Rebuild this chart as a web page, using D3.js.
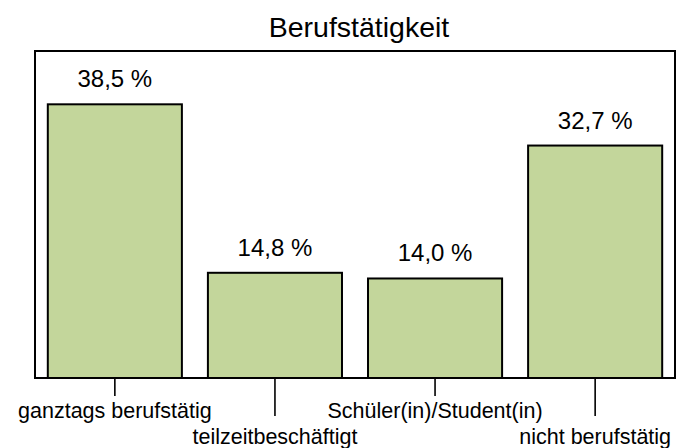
<!DOCTYPE html>
<html>
<head>
<meta charset="utf-8">
<script src="https://cdn.jsdelivr.net/npm/d3@7"></script>
<style>
  body { margin: 0; background: #fff; }
  text { font-family: Arial, "Liberation Sans", sans-serif; fill: #000; }
</style>
</head>
<body>
<div id="chart"></div>
<script>
const title = "Berufstätigkeit";
const categories = ["ganztags berufstätig", "teilzeitbeschäftigt", "Schüler(in)/Student(in)", "nicht berufstätig"];
const values = [38.5, 14.8, 14.0, 32.7];
const yMax = 46;

const width = 684, height = 448;
const plot = { left: 35, right: 675, top: 51, bottom: 378 };

const svg = d3.select("#chart")
              .append("svg")
              .attr("width", width)
              .attr("height", height);

const x = d3.scaleBand()
            .domain(categories)
            .range([plot.left, plot.right])
            .paddingInner(0.1625)
            .paddingOuter(0.08);

const y = d3.scaleLinear()
            .domain([0, yMax])
            .range([plot.bottom, plot.top]);

// title
svg.append("text")
   .attr("x", width / 2 + 17)
   .attr("y", 37)
   .attr("text-anchor", "middle")
   .style("font-size", "28.5px")
   .text(title);

// plot frame
svg.append("rect")
   .attr("x", plot.left)
   .attr("y", plot.top)
   .attr("width", plot.right - plot.left)
   .attr("height", plot.bottom - plot.top)
   .attr("fill", "none")
   .attr("stroke", "#000")
   .attr("stroke-width", 2);

// bars
svg.append("g")
   .selectAll("rect.bar")
   .data(values)
   .enter()
   .append("rect")
   .attr("class", "bar")
   .attr("x", (d, i) => x(categories[i]))
   .attr("y", d => y(d))
   .attr("width", x.bandwidth())
   .attr("height", d => y(0) - y(d))
   .attr("fill", "#c3d69b")
   .attr("stroke", "#000")
   .attr("stroke-width", 2);

// value labels
svg.append("g")
   .selectAll("text.value")
   .data(values)
   .enter()
   .append("text")
   .attr("class", "value")
   .attr("x", (d, i) => x(categories[i]) + x.bandwidth() / 2)
   .attr("y", d => y(d) - 17)
   .attr("text-anchor", "middle")
   .style("font-size", "24px")
   .text(d => d3.format(".1f")(d).replace(".", ",") + " %");

// category axis with staggered labels
const axis = svg.append("g")
                .attr("transform", `translate(0,${plot.bottom})`)
                .call(d3.axisBottom(x).tickSizeOuter(0).tickSize(17));

axis.select(".domain").remove();
axis.selectAll(".tick line")
    .attr("stroke", "#000")
    .attr("stroke-width", 1.6)
    .attr("y2", (d, i) => i % 2 ? 38 : 18);
axis.selectAll(".tick text")
    .attr("y", (d, i) => i % 2 ? 66 : 40)
    .attr("dy", null)
    .style("font-size", "21.5px")
    .style("font-family", "Arial, 'Liberation Sans', sans-serif")
    .attr("fill", "#000");
</script>
</body>
</html>
